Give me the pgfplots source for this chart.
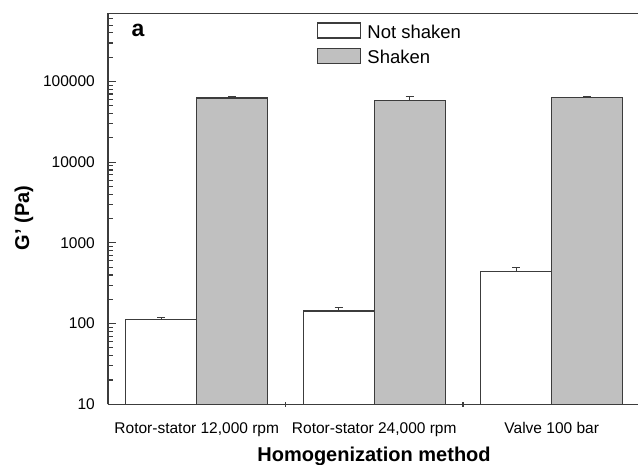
\documentclass[border=0pt]{standalone}
\usepackage{pgfplots}
\pgfplotsset{compat=1.18}
\usepackage{fontspec}
\setmainfont{Liberation Sans}
\definecolor{axcol}{HTML}{3C3C3C}
\definecolor{barg}{HTML}{C0C0C0}
\pgfplotsset{boxlegend/.style={legend image code/.code={\draw[##1] (0bp,0bp) rectangle (43bp,15bp);}}}
\begin{document}
\begin{tikzpicture}
\begin{axis}[
  scale only axis,
  width=540bp, height=391bp,
  xmin=-0.5, xmax=2.5423,
  ymode=log, ymin=10, ymax=7e5,
  log origin=infty,
  log ticks with fixed point,
  /pgf/number format/1000 sep={},
  /pgf/number format/assume math mode=true,
  axis x line*=bottom, axis y line*=left,
  axis line style={color=axcol, line width=1.5bp, -},
  xtick={0,1,2},
  xticklabels={Rotor-stator 12{,}000 rpm, Rotor-stator 24{,}000 rpm, Valve 100 bar},
  minor xtick={0.5,1.5},
  xtick align=center, ytick align=inside,
  major x tick style={draw=none},
  minor x tick style={color=axcol, line width=1.5bp},
  y tick style={color=axcol, line width=1.1bp},
  major tick length=8bp, minor tick length=5bp,
  tick label style={font=\fontsize{15.5bp}{18bp}\selectfont, color=black},
  xticklabel style={anchor=base, yshift=-25.7bp, inner sep=0pt},
  yticklabel style={anchor=east, inner sep=0pt, xshift=-13bp},
  xlabel={Homogenization method},
  xlabel style={font=\fontsize{20bp}{24bp}\selectfont\bfseries, at={(axis description cs:0.4926,0)}, anchor=base, yshift=-57.4bp},
  ylabel={G' (Pa)},
  ylabel style={font=\fontsize{20bp}{24bp}\selectfont\bfseries, at={(axis description cs:0,0.4765)}, anchor=center, yshift=84bp},
  legend cell align=left,
  legend style={at={(axis description cs:0.387,0.977)}, anchor=north west, draw=none, fill=none, inner sep=0pt,
    font=\fontsize{18.5bp}{22bp}\selectfont, row sep=8bp, column sep=6bp,
    cells={anchor=base west}, nodes={inner sep=0pt}},
]
\addplot[ybar, bar width=71bp, bar shift=0pt, draw=axcol, line width=1.3bp, fill=white, boxlegend,
  error bars/.cd, y dir=plus, y explicit,
  error mark options={rotate=90, mark size=4bp, line width=1bp, color=axcol},
  error bar style={line width=1bp, color=axcol}]
  coordinates {(-0.2,111.5) +- (0,6) (0.8,142.8) +- (0,17) (1.8,442.6) +- (0,57)};
\addlegendentry{Not shaken}
\addplot[ybar, bar width=71bp, bar shift=0pt, draw=axcol, line width=1.3bp, fill=barg, boxlegend,
  error bars/.cd, y dir=plus, y explicit,
  error mark options={rotate=90, mark size=4bp, line width=1bp, color=axcol},
  error bar style={line width=1bp, color=axcol}]
  coordinates {(0.2,62300) +- (0,3500) (1.2,58300) +- (0,7600) (2.2,63500) +- (0,1500)};
\addlegendentry{Shaken}
\draw[axcol, line width=1.5bp] (rel axis cs:0,1) -- (rel axis cs:1,1);
\node[font=\fontsize{23bp}{26bp}\selectfont\bfseries, anchor=center] at (axis description cs:0.0555,0.957) {a};
\end{axis}
\pgfresetboundingbox
\useasboundingbox (-108bp,-60.7bp) rectangle (530bp,404.3bp);
\end{tikzpicture}
\end{document}
